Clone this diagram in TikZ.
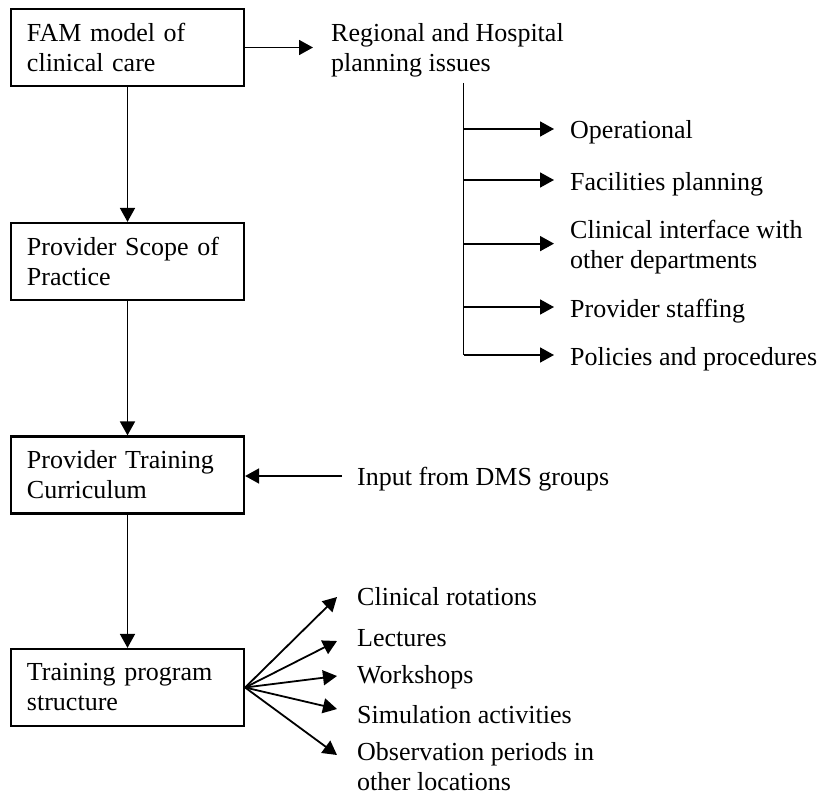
\documentclass[tikz,border=0pt]{standalone}
\usepackage{fontspec}
\setmainfont{Liberation Serif}
\usetikzlibrary{arrows.meta, calc, positioning}

\begin{document}
\begin{tikzpicture}[x=1pt, y=-1pt, >={Triangle[length=14pt,width=15pt]},
  every node/.style={font=\fontsize{26}{30}\selectfont},
  box/.style={draw, line width=2.2pt, text width=201pt, inner xsep=16pt, minimum height=77pt, align=left},
  item/.style={inner sep=0pt, anchor=base west, align=left},
  arr/.style={->, line width=1.8pt}]
  \useasboundingbox (0,0) rectangle (825,797);
  % main chain
  \node[box] (fam)   at (127.5,47.5)  {FAM model of\\clinical care};
  \node[box] (scope) at (127.5,261.5) {Provider Scope of\\Practice};
  \node[box] (curr)  at (127.5,475)   {Provider Training\\Curriculum};
  \node[box] (prog)  at (127.5,687.5) {Training program\\structure};
  \draw[arr] (fam) -- (scope);
  \draw[arr] (scope) -- (curr);
  \draw[arr] (curr) -- (prog);
  % planning issues
  \node[item] (reg)   at (331,72)  {Regional and Hospital\\planning issues};
  \draw[arr, shorten >=18pt] (fam.east) -- (fam.east -| reg.west);
  \node[item] (op)    at (570,139) {Operational};
  \node[item] (fac)   at (570,190) {Facilities planning};
  \node[item] (cli)   at (570,268) {Clinical interface with\\other departments};
  \node[item] (staff) at (570,317) {Provider staffing};
  \node[item] (pol)   at (570,365) {Policies and procedures};
  \coordinate (trunk) at (463.5,83);
  \foreach \n in {op,fac,staff,pol}
    \coordinate (\n-in) at ([yshift=10pt]\n.base west);
  \coordinate (cli-in) at ([yshift=3pt]cli.west);
  \draw[line width=1.8pt] (trunk) -- (trunk |- pol-in);
  \foreach \n in {op,fac,cli,staff,pol}
    \draw[arr, shorten >=16pt] (trunk |- \n-in) -- (\n-in);
  % input
  \node[item] (input) at (357,485) {Input from DMS groups};
  \coordinate (input-out) at ([yshift=9pt]input.base west);
  \draw[arr, shorten <=15pt] (input-out) -- (curr.east |- input-out);
  % program parts
  \node[item] (cr)  at (357,605) {Clinical rotations};
  \node[item] (lec) at (357,646) {Lectures};
  \node[item] (ws)  at (357,683) {Workshops};
  \node[item] (sim) at (357,723) {Simulation activities};
  \node[item] (obs) at (357,790) {Observation periods in\\other locations};
  \foreach \n/\dy in {cr/8,lec/5,ws/7,sim/14,obs/35}
    \draw[arr] (prog.east) -- ([xshift=-20pt,yshift=\dy pt]\n.base west);
\end{tikzpicture}
\end{document}
